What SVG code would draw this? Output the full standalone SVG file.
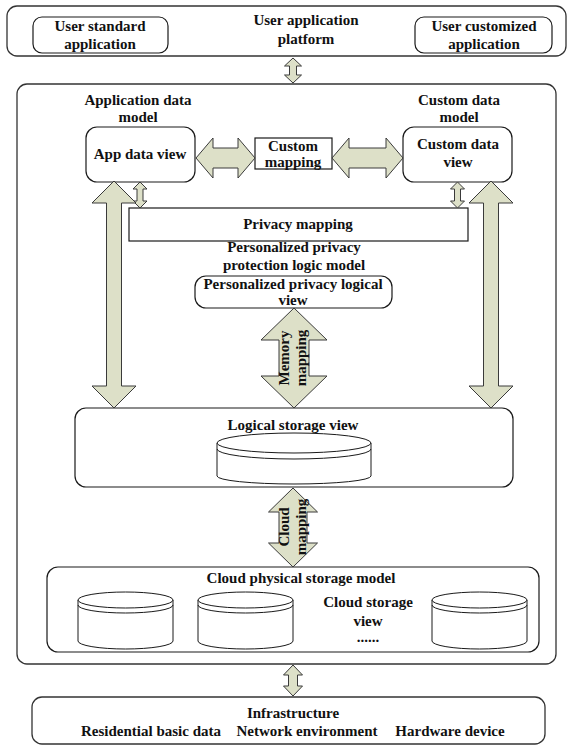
<svg xmlns="http://www.w3.org/2000/svg" width="572" height="746" viewBox="0 0 572 746">
  <defs>
    <style>
      .box { fill: #ffffff; stroke: #1a1a1a; stroke-width: 1.2; }
      .frame { fill: none; stroke: #333333; stroke-width: 1.3; }
      .arrow { fill: #dde0c8; stroke: #3a3a3a; stroke-width: 1; stroke-linejoin: miter; }
      .cyl { fill: #ffffff; stroke: #1a1a1a; stroke-width: 1; }
      .t { font-family: "Liberation Serif", "Times New Roman", serif; font-weight: bold; font-size: 15px; fill: #111111; text-anchor: middle; }
    </style>
  </defs>

  <rect width="572" height="746" fill="#ffffff"/>

  <!-- outer frames -->
  <g id="platform">
    <rect class="frame" x="7" y="6" width="559" height="50" rx="10"/>
    <text class="t" x="306" y="25">User application</text>
    <text class="t" x="306" y="44">platform</text>
  </g>
  <g id="user-standard">
    <rect class="box" x="33" y="17" width="135" height="36" rx="9"/>
    <text class="t" x="100" y="31">User standard</text>
    <text class="t" x="100" y="49">application</text>
  </g>
  <g id="user-custom">
    <rect class="box" x="415" y="17" width="137" height="36" rx="9"/>
    <text class="t" x="484" y="31">User customized</text>
    <text class="t" x="484" y="49">application</text>
  </g>

  <g id="main-frame">
    <rect class="frame" x="17" y="84" width="539" height="580" rx="10"/>
  </g>

  <g id="app-data-model">
    <text class="t" x="138" y="105">Application data</text>
    <text class="t" x="138" y="122">model</text>
    <rect class="box" x="86" y="127" width="109" height="55" rx="11"/>
    <text class="t" x="140" y="159">App data view</text>
  </g>

  <g id="custom-mapping">
    <rect class="box" x="255" y="138" width="77" height="31"/>
    <text class="t" x="293" y="151">Custom</text>
    <text class="t" x="293" y="167">mapping</text>
  </g>

  <g id="custom-data-model">
    <text class="t" x="459" y="105">Custom data</text>
    <text class="t" x="459" y="122">model</text>
    <rect class="box" x="403" y="127" width="109" height="55" rx="11"/>
    <text class="t" x="458" y="149">Custom data</text>
    <text class="t" x="458" y="167">view</text>
  </g>

  <g id="privacy-mapping">
    <rect class="box" x="129" y="208" width="339" height="33"/>
    <text class="t" x="298" y="229">Privacy mapping</text>
  </g>

  <g id="privacy-logic-model">
    <text class="t" x="294" y="252">Personalized privacy</text>
    <text class="t" x="294" y="270">protection logic model</text>
    <rect class="box" x="195" y="276" width="197" height="32" rx="11"/>
    <text class="t" x="293" y="289">Personalized privacy logical</text>
    <text class="t" x="293" y="305">view</text>
  </g>

  <g id="logical-storage">
    <rect class="box" x="75" y="408" width="438" height="79" rx="11"/>
    <text class="t" x="293" y="430">Logical storage view</text>
    <g class="cyl">
      <path d="M217,443 V476 A77,8 0 0 0 371,476 V443"/>
      <ellipse cx="294" cy="443" rx="77" ry="10"/>
      <path d="M217,449 A77,10 0 0 0 371,449" fill="none"/>
    </g>
  </g>

  <g id="cloud-physical-storage">
    <rect class="box" x="47" y="567" width="492" height="85" rx="11"/>
    <text class="t" x="301" y="583">Cloud physical storage model</text>
    <g class="cyl">
      <path d="M78,600 V641 A47.5,8 0 0 0 173,641 V600"/>
      <ellipse cx="125.5" cy="600" rx="47.5" ry="8"/>
      <path d="M78,605 A47.5,8 0 0 0 173,605" fill="none"/>
    </g>
    <g class="cyl">
      <path d="M198,600 V641 A47.5,8 0 0 0 293,641 V600"/>
      <ellipse cx="245.5" cy="600" rx="47.5" ry="8"/>
      <path d="M198,605 A47.5,8 0 0 0 293,605" fill="none"/>
    </g>
    <g class="cyl">
      <path d="M432,600 V641 A47.5,8 0 0 0 527,641 V600"/>
      <ellipse cx="479.5" cy="600" rx="47.5" ry="8"/>
      <path d="M432,605 A47.5,8 0 0 0 527,605" fill="none"/>
    </g>
    <text class="t" x="368" y="607">Cloud storage</text>
    <text class="t" x="368" y="626">view</text>
    <text class="t" x="368" y="642">......</text>
  </g>

  <g id="infrastructure">
    <rect class="frame" x="32" y="697" width="513" height="47" rx="10"/>
    <text class="t" x="293" y="718">Infrastructure</text>
    <text class="t" x="151" y="736">Residential basic data</text>
    <text class="t" x="307" y="736">Network environment</text>
    <text class="t" x="450" y="736">Hardware device</text>
  </g>

  <!-- block arrows between layers -->
  <g id="connectors">
    <!-- platform <-> main -->
    <polygon class="arrow" points="293,58 301.5,66 296.5,66 296.5,75 301.5,75 293,83 284.5,75 289.5,75 289.5,66 284.5,66"/>
    <!-- app data view <-> custom mapping -->
    <polygon class="arrow" points="196,158 213,138 213,148 238,148 238,138 255,158 238,178 238,168 213,168 213,178"/>
    <!-- custom mapping <-> custom data view -->
    <polygon class="arrow" points="332,158 349,138 349,148 386,148 386,138 403,158 386,178 386,168 349,168 349,178"/>
    <!-- small arrows to privacy mapping -->
    <polygon class="arrow" points="140,182 147,189 143,189 143,201 147,201 140,208 133,201 137,201 137,189 133,189"/>
    <polygon class="arrow" points="457.5,182 464.5,189 460.5,189 460.5,201 464.5,201 457.5,208 450.5,201 454.5,201 454.5,189 450.5,189"/>
    <!-- long side arrows -->
    <polygon class="arrow" points="114,181 136,203 121.5,203 121.5,386 136,386 114,408 92,386 106.5,386 106.5,203 92,203"/>
    <polygon class="arrow" points="491,181 513,203 498.5,203 498.5,386 513,386 491,408 469,386 483.5,386 483.5,203 469,203"/>
    <!-- memory mapping -->
    <polygon class="arrow" points="294,308 327,340 309,340 309,376 327,376 294,408 261,376 279,376 279,340 261,340"/>
    <text class="t" transform="translate(289,358) rotate(-90)">Memory</text>
    <text class="t" transform="translate(306,358) rotate(-90)">mapping</text>
    <!-- cloud mapping -->
    <polygon class="arrow" points="293,488 317.5,512 307,512 307,543 317.5,543 293,567 268.5,543 279,543 279,512 268.5,512"/>
    <text class="t" transform="translate(289,527) rotate(-90)">Cloud</text>
    <text class="t" transform="translate(306,527) rotate(-90)">mapping</text>
    <!-- main <-> infrastructure -->
    <polygon class="arrow" points="293,665 302.5,675 297.5,675 297.5,686 302.5,686 293,696 283.5,686 288.5,686 288.5,675 283.5,675"/>
  </g>
</svg>
